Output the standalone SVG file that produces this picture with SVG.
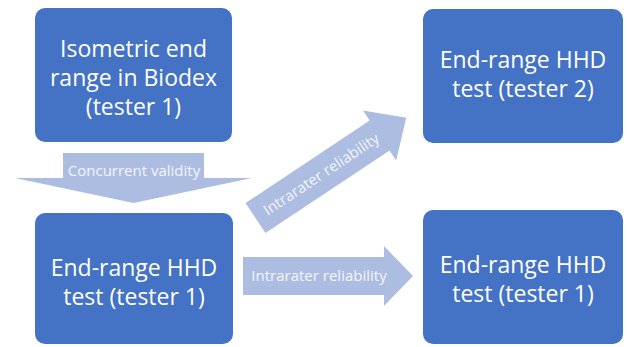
<svg xmlns="http://www.w3.org/2000/svg" width="627" height="347" viewBox="0 0 627 347">
<style>
.box{fill:#4472C4;}
.bt{fill:#FFFFFF;font-family:"Open Sans","Liberation Sans",sans-serif;font-size:23px;text-anchor:middle;}
.arr{fill:#ADBDE2;}
.at{fill:#F3F5FB;font-family:"Open Sans","Liberation Sans",sans-serif;font-size:15px;text-anchor:middle;}
</style>
<rect width="627" height="347" fill="#FFFFFF"/>
<g id="connectors">
<g id="concurrent">
<polygon class="arr" points="63,153 204,153 204,178 252,178 133.5,203 15,178 63,178"/>
<text class="at" x="134" y="176">Concurrent validity</text>
</g>
<g id="intra-diag" transform="translate(255.5,218) rotate(-33.6)">
<polygon class="arr" points="0,-18 149,-18 149,-30 181,0 149,30 149,18 0,18"/>
<text class="at" x="79" y="5">Intrarater reliability</text>
</g>
<g id="intra-horiz">
<polygon class="arr" points="243,257 384,257 384,246 413,276 384,306 384,295 243,295"/>
<text class="at" x="319" y="281">Intrarater reliability</text>
</g>
</g>
<g id="node-biodex">
<rect class="box" x="35" y="8" width="197" height="134" rx="10"/>
<text class="bt" x="133.5" y="57">Isometric end</text>
<text class="bt" x="133.5" y="86">range in Biodex</text>
<text class="bt" x="133.5" y="115">(tester 1)</text>
</g>
<g id="node-hhd-t2">
<rect class="box" x="423" y="9" width="200" height="134" rx="10"/>
<text class="bt" x="523" y="68">End-range HHD</text>
<text class="bt" x="523" y="97">test (tester 2)</text>
</g>
<g id="node-hhd-t1-left">
<rect class="box" x="35" y="213" width="198" height="131" rx="10"/>
<text class="bt" x="134" y="276">End-range HHD</text>
<text class="bt" x="134" y="305">test (tester 1)</text>
</g>
<g id="node-hhd-t1-right">
<rect class="box" x="423" y="210" width="200" height="134" rx="10"/>
<text class="bt" x="523" y="273">End-range HHD</text>
<text class="bt" x="523" y="302">test (tester 1)</text>
</g>
</svg>
